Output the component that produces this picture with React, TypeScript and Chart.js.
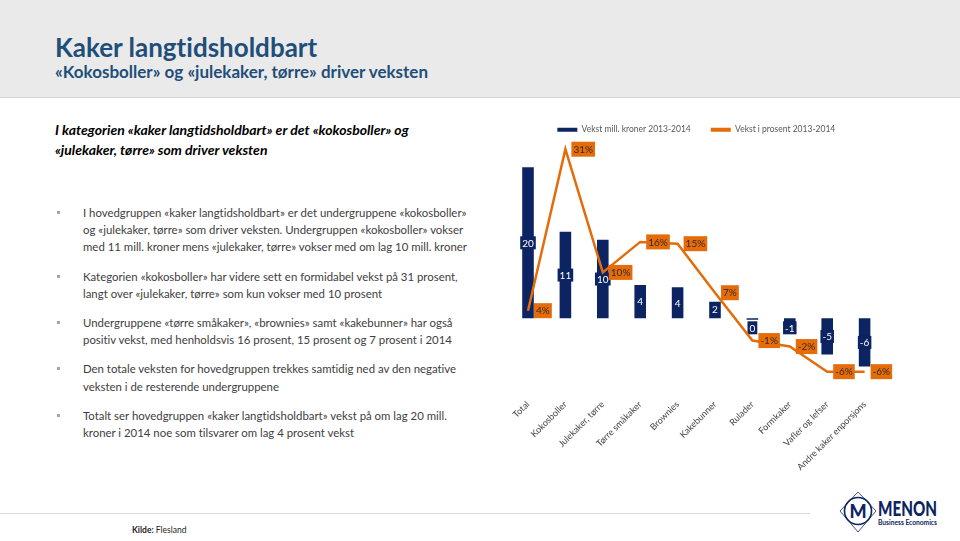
import React, { useEffect, useRef } from "react";
import { Chart, registerables } from "chart.js";
Chart.register(...registerables);

const categories = [
  "Total",
  "Kokosboller",
  "Julekaker, tørre",
  "Tørre småkaker",
  "Brownies",
  "Kakebunner",
  "Rulader",
  "Formkaker",
  "Vafler og lefser",
  "Andre kaker enporsjons",
];
const growthMNOK = [20, 11.45, 10.4, 4.4, 4.1, 2.2, -0.2, -1.1, -4.8, -6.4];
const growthPct = [4, 31, 10.4, 15.5, 15.2, 7, -1, -2, -6.2, -6.2];
const seriesNames = ["Vekst mill. kroner 2013-2014", "Vekst i prosent 2013-2014"];

const title = "Kaker langtidsholdbart";
const subtitle = "«Kokosboller» og «julekaker, tørre» driver veksten";
const lead = [
  "I kategorien «kaker langtidsholdbart» er det «kokosboller» og",
  "«julekaker, tørre» som driver veksten",
];
const bullets = [
  [
    "I hovedgruppen «kaker langtidsholdbart» er det undergruppene «kokosboller»",
    "og «julekaker, tørre» som driver veksten. Undergruppen «kokosboller» vokser",
    "med 11 mill. kroner mens «julekaker, tørre» vokser med om lag 10 mill. kroner",
  ],
  [
    "Kategorien «kokosboller» har videre sett en formidabel vekst på 31 prosent,",
    "langt over «julekaker, tørre» som kun vokser med 10 prosent",
  ],
  [
    "Undergruppene «tørre småkaker», «brownies» samt «kakebunner» har også",
    "positiv vekst, med henholdsvis 16 prosent, 15 prosent og 7 prosent i 2014",
  ],
  [
    "Den totale veksten for hovedgruppen trekkes samtidig ned av den negative",
    "veksten i de resterende undergruppene",
  ],
  [
    "Totalt ser hovedgruppen «kaker langtidsholdbart» vekst på om lag 20 mill.",
    "kroner i 2014 noe som tilsvarer om lag 4 prosent vekst",
  ],
];
const bulletBaselines = [216.7, 280.7, 326.7, 373.3, 420];

const NAVY = "#0C2461";
const ORANGE = "#E46C0A";
const FONT = "Lato, 'Open Sans', sans-serif";

const labelPlugin = {
  id: "valueLabels",
  afterDatasetDraw(chart: any, args: any) {
    const ctx = chart.ctx;
    const meta = args.meta;
    const ds = chart.data.datasets[args.index];
    ctx.save();
    ctx.font = "10px Lato";
    ctx.textBaseline = "middle";
    if (meta.type === "bar") {
      const zero = chart.scales.y.getPixelForValue(0);
      ctx.textAlign = "center";
      meta.data.forEach((el: any, i: number) => {
        const v = ds.data[i];
        const txt = String(Math.round(v) || 0);
        const w = ctx.measureText(txt).width + 4;
        const h = 13;
        let cy = (el.y + el.base) / 2;
        if (v >= 0) cy = Math.min(cy, zero - 3 - h / 2);
        else cy = Math.max(cy, zero + 3 + h / 2);
        ctx.fillStyle = NAVY;
        ctx.fillRect(el.x - w / 2, cy - h / 2, w, h);
        ctx.fillStyle = "#FFFFFF";
        ctx.fillText(txt, el.x, cy + 0.5);
      });
    } else if (meta.type === "line") {
      ctx.textAlign = "left";
      meta.data.forEach((el: any, i: number) => {
        const v = ds.data[i];
        const txt = (Math.round(v) || 0) + "%";
        const w = ctx.measureText(txt).width + 4;
        const h = 15;
        const x0 = el.x + 6;
        ctx.fillStyle = ORANGE;
        ctx.fillRect(x0, el.y - h / 2, w, h);
        ctx.fillStyle = "#3A2A20";
        ctx.fillText(txt, x0 + 2, el.y + 0.5);
      });
    }
    ctx.restore();
  },
};

function ChartBox() {
  const ref = useRef<HTMLCanvasElement | null>(null);
  useEffect(() => {
    if (!ref.current) return;
    const chart = new Chart(ref.current, {
      type: "bar",
      data: {
        labels: categories,
        datasets: [
          {
            type: "bar",
            label: seriesNames[0],
            data: growthMNOK,
            backgroundColor: NAVY,
            yAxisID: "y",
            order: 2,
            barPercentage: 0.31,
            categoryPercentage: 1,
          } as any,
          {
            type: "line",
            label: seriesNames[1],
            data: growthPct,
            borderColor: ORANGE,
            backgroundColor: ORANGE,
            borderWidth: 2.5,
            pointRadius: 0,
            tension: 0,
            yAxisID: "y2",
            order: 1,
          } as any,
        ],
      },
      options: {
        responsive: true,
        maintainAspectRatio: false,
        animation: false,
        layout: { padding: { left: 19.3, right: 76.7, top: 1.5, bottom: 0 } },
        plugins: {
          legend: {
            display: true,
            position: "top",
            labels: {
              boxWidth: 20,
              boxHeight: 4,
              padding: 20,
              color: "#595959",
              font: { family: "Lato", size: 8.5 },
              generateLabels: (c: any) =>
                Chart.defaults.plugins.legend.labels
                  .generateLabels(c)
                  .map((l: any) => ({ ...l, lineWidth: 0 }))
                  .sort((a: any, b: any) => a.datasetIndex - b.datasetIndex),
            },
          },
          tooltip: { enabled: false },
        },
        scales: {
          x: {
            grid: { display: false, drawTicks: false },
            border: { display: false },
            ticks: {
              autoSkip: false,
              minRotation: 45,
              maxRotation: 45,
              padding: 4,
              color: "#404040",
              font: { family: "Lato", size: 9 },
            },
            afterFit: (s: any) => {
              s.height = 90;
            },
          },
          y: { display: false, min: -10.16, max: 23.09 },
          y2: { display: false, min: -10.1, max: 31.87 },
        },
      } as any,
      plugins: [labelPlugin],
    });
    return () => chart.destroy();
  }, []);
  return (
    <div style={{ position: "absolute", left: 490, top: 104, width: 470, height: 381 }}>
      <canvas ref={ref} />
    </div>
  );
}

function topFor(baseline: number, size: number, lh: number) {
  return baseline - lh / 2 - 0.387 * size;
}

export default function App() {
  const textColor = "#404040";
  return (
    <div
      style={{
        position: "absolute",
        left: 0,
        top: 0,
        width: 960,
        height: 541,
        overflow: "hidden",
        background: "#FFFFFF",
        fontFamily: FONT,
        fontVariantLigatures: "none",
      }}
    >
      <div style={{ position: "absolute", left: 0, top: 0, width: 960, height: 97, background: "#EAEAEA" }} />
      <div style={{ position: "absolute", left: 0, top: 97, width: 960, height: 1, background: "#D4D4D4" }} />
      <div
        style={{
          position: "absolute",
          left: 55,
          top: topFor(57, 26, 30),
          fontSize: 26,
          lineHeight: "30px",
          fontWeight: 700,
          color: "#1F4E79",
          whiteSpace: "nowrap",
        }}
      >
        {title}
      </div>
      <div
        style={{
          position: "absolute",
          left: 55,
          top: topFor(78.5, 17, 20),
          fontSize: 17,
          lineHeight: "20px",
          fontWeight: 700,
          color: "#1F4E79",
          whiteSpace: "nowrap",
        }}
      >
        {subtitle}
      </div>
      <div
        style={{
          position: "absolute",
          left: 55,
          top: topFor(135, 14, 20),
          fontSize: 14,
          lineHeight: "20px",
          fontWeight: 700,
          fontStyle: "italic",
          color: "#000000",
          whiteSpace: "nowrap",
        }}
      >
        {lead.map((l, i) => (
          <div key={i}>{l}</div>
        ))}
      </div>
      {bullets.map((b, bi) => (
        <React.Fragment key={bi}>
          <div
            style={{
              position: "absolute",
              left: 57,
              top: bulletBaselines[bi] - 6,
              width: 3,
              height: 3,
              background: "#A6A6A6",
            }}
          />
          <div
            style={{
              position: "absolute",
              left: 83,
              top: topFor(bulletBaselines[bi], 11.4, 17.3),
              fontSize: 11.4,
              lineHeight: "17.3px",
              color: textColor,
              whiteSpace: "nowrap",
            }}
          >
            {b.map((l, i) => (
              <div key={i}>{l}</div>
            ))}
          </div>
        </React.Fragment>
      ))}
      <div style={{ position: "absolute", left: 0, top: 513, width: 810, height: 1, background: "#D9D9D9" }} />
      <div
        style={{
          position: "absolute",
          left: 132,
          top: topFor(533, 8.5, 10),
          fontSize: 8.5,
          lineHeight: "10px",
          color: "#262626",
          whiteSpace: "nowrap",
        }}
      >
        <b>Kilde:</b> Flesland
      </div>
      <svg style={{ position: "absolute", left: 836, top: 490, width: 110, height: 46 }} viewBox="836 490 110 46">
        <circle cx={858} cy={511} r={13.5} fill="none" stroke={NAVY} strokeWidth={1.6} />
        <polygon points="858,492 876,511 858,532 840,511" fill="none" stroke={NAVY} strokeWidth={0.8} />
        <text x={858} y={518} textAnchor="middle" fontFamily="Lato" fontWeight={900} fontSize={18} fill={NAVY}>
          M
        </text>
        <text x={878} y={516} fontFamily="Lato" fontWeight={900} fontSize={20} fill={NAVY} textLength={59} lengthAdjust="spacingAndGlyphs">
          MENON
        </text>
        <text x={878} y={525} fontFamily="Lato" fontWeight={700} fontSize={7} fill={NAVY} textLength={59} lengthAdjust="spacingAndGlyphs">
          Business Economics
        </text>
      </svg>
      <ChartBox />
    </div>
  );
}
